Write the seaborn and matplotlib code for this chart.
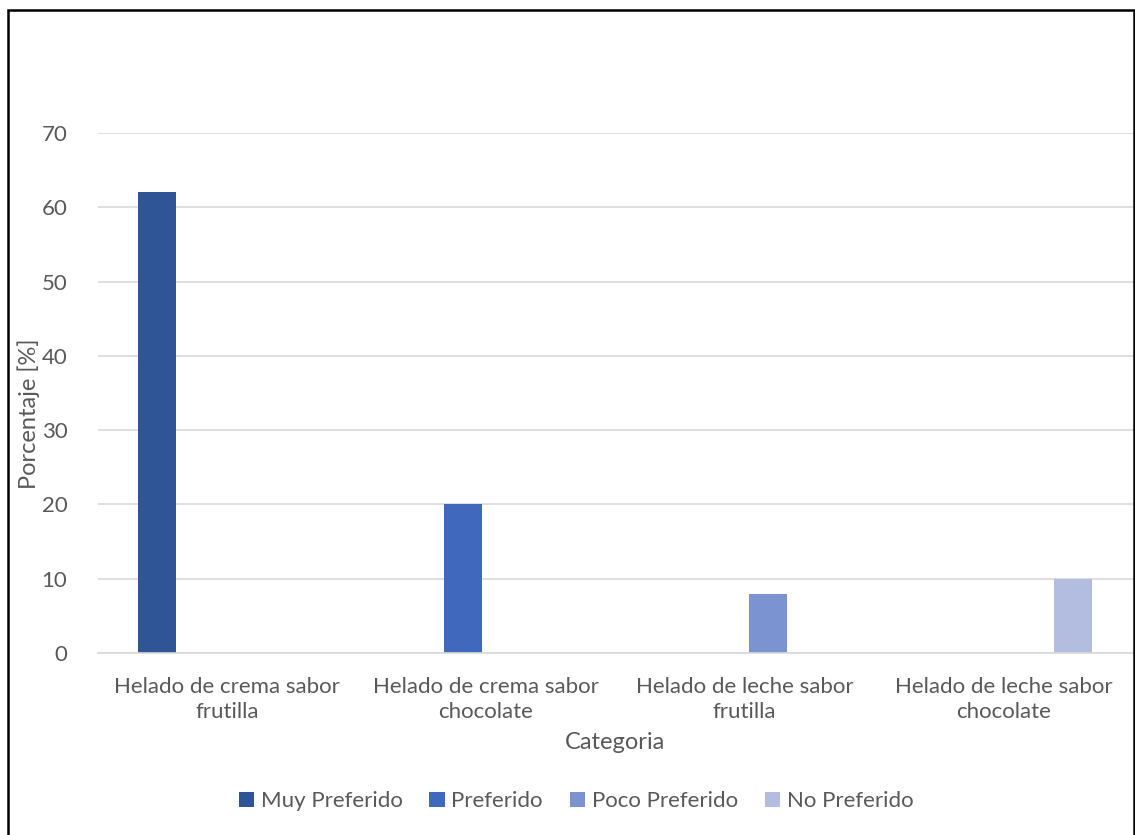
import matplotlib
matplotlib.use("Agg")
import matplotlib.pyplot as plt
import seaborn as sns
import pandas as pd
from matplotlib.patches import Rectangle

#--> Data
categorias = ["Helado de crema sabor\nfrutilla", "Helado de crema sabor\nchocolate",
              "Helado de leche sabor\nfrutilla", "Helado de leche sabor\nchocolate"]
series = ["Muy Preferido", "Preferido", "Poco Preferido", "No Preferido"]
muy_preferido = [62, 0, 0, 0]
preferido = [0, 20, 0, 0]
poco_preferido = [0, 0, 8, 0]
no_preferido = [0, 0, 0, 10]
colores = ["#2F5597", "#4069BD", "#7B93D1", "#B2BDE0"]

#--> Long-form table for seaborn
rows = []
for s, vals in zip(series, [muy_preferido, preferido, poco_preferido, no_preferido]):
    for c, v in zip(categorias, vals):
        rows.append({"Categoria": c, "Serie": s, "Porcentaje": v})
df = pd.DataFrame(rows)

sns.set_style("white")
plt.rcParams['font.family'] = ['Lato', 'DejaVu Sans']
gris = "#595959"

fig = plt.figure(figsize=(11.35, 8.35), dpi=100)
ax = fig.add_axes([0.0863, 0.218, 0.9117, 0.6227])

sns.barplot(data=df, x="Categoria", y="Porcentaje", hue="Serie", hue_order=series,
            palette=colores, saturation=1, width=0.722, gap=0.186, linewidth=0, ax=ax)

#--> Axes styling
ax.set_ylim(0, 70)
ax.set_xlim(-0.5, 3.5)
ax.set_yticks(range(0, 80, 10))
ax.yaxis.grid(True, color="#d9d9d9", linewidth=1.2)
ax.set_axisbelow(True)
for side in ["top", "right", "left"]:
    ax.spines[side].set_visible(False)
ax.spines["bottom"].set_color("#d9d9d9")
ax.spines["bottom"].set_linewidth(1.2)
ax.tick_params(axis="x", length=0, labelsize=16, labelcolor=gris, pad=17)
for lbl in ax.get_xticklabels():
    lbl.set_linespacing(1.35)
ax.tick_params(axis="y", length=0, labelsize=16, labelcolor=gris, pad=22)
ax.set_xticks([-0.5, 0.5, 1.5, 2.5, 3.5], minor=True)
ax.tick_params(axis="x", which="minor", length=7, color="#d9d9d9", width=1.2)
ax.set_xlabel("Categoria", fontsize=17, color=gris, labelpad=7)
ax.set_ylabel("Porcentaje [%]", fontsize=17, color=gris)
ax.yaxis.set_label_coords(-0.056, 0.46)

#--> Legend at the bottom
ax.legend(loc="center", bbox_to_anchor=(0.462, -0.285), ncol=4, frameon=False,
          fontsize=16, labelcolor=gris, handlelength=0.7, handleheight=0.7,
          handletextpad=0.3, columnspacing=1.2)

#--> Frame around the figure
fig.patches.append(Rectangle((0.007, -0.01), 0.992, 0.998, transform=fig.transFigure,
                             fill=False, edgecolor="black", linewidth=1.8))

fig.savefig("out.png", dpi=100)
